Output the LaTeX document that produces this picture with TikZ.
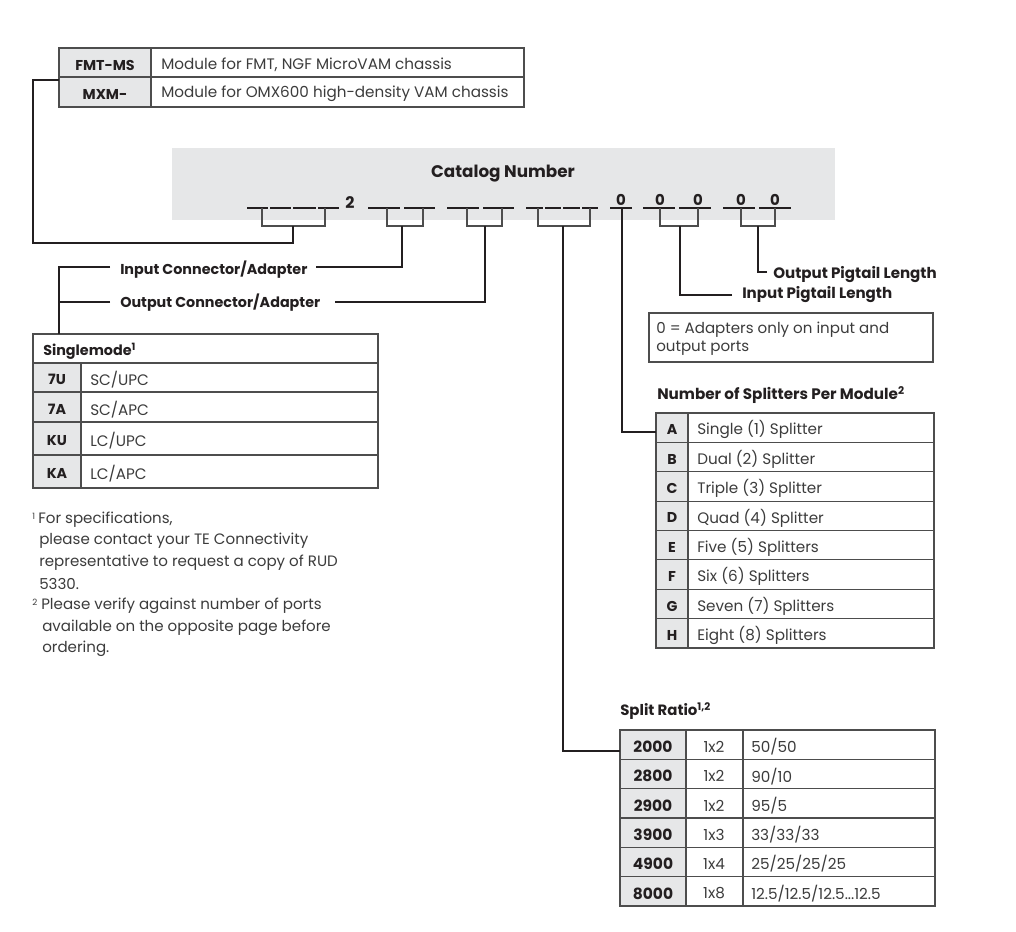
\documentclass[tikz,border=0pt]{standalone}
\usepackage{fontspec}
\setmainfont{Poppins}
\definecolor{keygray}{HTML}{E6E7E8}
\definecolor{band}{HTML}{E6E7E8}
\definecolor{txt}{HTML}{3C3C3C}
\definecolor{rulec}{HTML}{4D4D4D}
\definecolor{ink}{HTML}{231F20}
\newcommand\myratioeight{12.5/12.5/12.5...12.5}
\tikzset{
  txtbase/.style={inner sep=0pt, yshift=-1.6pt},
  lbl/.style={txtbase, font=\fontsize{10.75}{12}\selectfont\bfseries, text=ink},
  biglbl/.style={txtbase, font=\fontsize{11.3}{13}\selectfont\bfseries, text=ink},
  cell/.style={txtbase, font=\fontsize{11.4}{13}\selectfont, text=txt},
  keyc/.style={txtbase, font=\fontsize{10.7}{12}\selectfont\bfseries, text=ink},
  numk/.style={txtbase, font=\fontsize{11.6}{13}\selectfont\bfseries, text=ink},
  note/.style={txtbase, font=\fontsize{11.3}{13}\selectfont, text=txt, anchor=west},
  sup/.style={txtbase, font=\fontsize{6.5}{7}\selectfont, text=txt, anchor=west},
  zero/.style={txtbase, font=\fontsize{11.2}{13}\selectfont\bfseries, text=ink},
  conn/.style={draw=ink, line width=0.9pt},
  grid/.style={draw=rulec, line width=0.9pt},
  uline/.style={draw=ink, line width=1.2pt},
  brk/.style={draw=rulec, line width=0.9pt},
}
\begin{document}
\begin{tikzpicture}[x=0.75pt,y=-0.75pt]
\useasboundingbox (0,0) rectangle (1016,931);
\fill[white] (0,0) rectangle (1016,931);

% ---------- top table ----------
\fill[keygray] (59,48) rectangle (151,107);
\draw[grid] (59,48) rectangle (524,107);
\draw[grid] (59,77) -- (524,77);
\draw[grid] (151,48) -- (151,107);
\node[keyc] (fmt) at (105,63) {FMT-MS};
\node[cell,anchor=west] (fmtd) at (161,63) {Module for FMT, NGF MicroVAM chassis};
\node[keyc] (mxm) at (105,92) {MXM-};
\node[cell,anchor=west] (mxmd) at (161,92) {Module for OMX600 high-density VAM chassis};
\coordinate (mxmL) at (59,80);

% ---------- catalog band ----------
\fill[band] (172,148) rectangle (835,220);
\node[lbl,font=\fontsize{12.6}{14}\selectfont\bfseries] (cat) at (503,171) {Catalog Number};
\node[lbl,font=\fontsize{12}{14}\selectfont\bfseries] (two) at (350,200) {2};

% group 1
\draw[uline] (247,208) -- (268,208) (270,208) -- (291,208) (293,208) -- (316,208) (318,208) -- (339,208);
\draw[brk] (262,208) -- (262,226) -- (325,226) -- (325,208);
\coordinate (g1) at (293,226);
% group 2
\draw[uline] (368,208) -- (400,208) (404,208) -- (435,208);
\draw[brk] (387,208) -- (387,226) -- (423,226) -- (423,208);
\coordinate (g2) at (402,226);
% group 3
\draw[uline] (447,208) -- (479,208) (483,208) -- (514,208);
\draw[brk] (467,208) -- (467,226) -- (502,226) -- (502,208);
\coordinate (g3) at (485,226);
% group 4
\draw[uline] (526,208) -- (543,208) (545,208) -- (561,208) (563,208) -- (580,208) (582,208) -- (598,208);
\draw[brk] (538,208) -- (538,226) -- (590,226) -- (590,208);
\coordinate (g4) at (563,226);
% group 5
\draw[uline] (610,208) -- (632,208);
\node[zero] (z1) at (621,198) {0};
\coordinate (g5) at (622,208);
% group 6
\draw[uline] (643,208) -- (675,208) (679,208) -- (711,208);
\node[zero] (z2) at (660,198) {0};
\node[zero] (z3) at (698,198) {0};
\draw[brk] (660,208) -- (660,226) -- (698,226) -- (698,208);
\coordinate (g6) at (680,226);
% group 7
\draw[uline] (723,208) -- (755,208) (759,208) -- (791,208);
\node[zero] (z4) at (741,198) {0};
\node[zero] (z5) at (775,198) {0};
\draw[brk] (741,208) -- (741,226) -- (775,226) -- (775,208);
\coordinate (g7) at (758,226);

% ---------- connector labels ----------
\node[lbl,anchor=west] (inc) at (120,267) {Input Connector/Adapter};
\node[lbl,anchor=west] (outc) at (120,300) {Output Connector/Adapter};
\node[biglbl,anchor=west] (opl) at (773,272) {Output Pigtail Length};
\node[biglbl,anchor=west] (ipl) at (742,292) {Input Pigtail Length};

\coordinate (incR) at (316,267);
\coordinate (outcR) at (335,302);
\coordinate (incL) at (110,267);
\coordinate (outcL) at (110,302);
\coordinate (oplL) at (767,272);
\coordinate (iplL) at (732,295);

% connectors
\draw[conn] (mxmL) -- (33,80) -- (33,243) -- (g1 |- 0,243) -- (g1);
\draw[conn] (incR) -- (g2 |- incR) -- (g2);
\draw[conn] (outcR) -- (g3 |- outcR) -- (g3);
\draw[conn] (oplL) -- (g7 |- oplL) -- (g7);
\draw[conn] (iplL) -- (g6 |- iplL) -- (g6);

% ---------- singlemode table ----------
\fill[keygray] (33,363) rectangle (81,488);
\draw[grid] (33,334) rectangle (378,488);
\foreach \y in {363,392,422,455} \draw[grid] (33,\y) -- (378,\y);
\draw[grid] (81,363) -- (81,488);
\node[lbl,anchor=west] (sm) at (43,349) {Singlemode\textsuperscript{1}};
\foreach \k/\d/\y [count=\i] in {7U/SC\slash UPC/377.5, 7A/SC\slash APC/407, KU/LC\slash UPC/438.5, KA/LC\slash APC/471.5}{
  \node[keyc] (smk\i) at (57,\y) {\k};
  \node[cell,anchor=west] (smd\i) at (90,\y) {\d};
}
\coordinate (smT) at (59,334);
\draw[conn] (incL) -- (59,267) -- (smT);
\draw[conn] (outcL) -- (59,302);

% ---------- footnotes ----------
\node[sup] (f1s) at (32,514) {1};
\node[note] (f1a) at (38,518) {For specifications,};
\node[note] (f1b) at (39,539) {please contact your TE Connectivity};
\node[note] (f1c) at (39,561) {representative to request a copy of RUD};
\node[note] (f1d) at (39,582) {5330.};
\node[sup] (f2s) at (32,600) {2};
\node[note] (f2a) at (41,604) {Please verify against number of ports};
\node[note] (f2b) at (42,626) {available on the opposite page before};
\node[note] (f2c) at (42,647) {ordering.};

% ---------- note box ----------
\draw[grid] (649,313) rectangle (933,362);
\node[note] (nb1) at (656,328) {0 = Adapters only on input and};
\node[note] (nb2) at (656,346) {output ports};

% ---------- splitters ----------
\node[lbl,font=\fontsize{11.4}{13}\selectfont\bfseries,anchor=west] (nsp) at (657,393) {Number of Splitters Per Module\textsuperscript{2}};
\fill[keygray] (656,413) rectangle (688,648);
\draw[grid] (656,413) rectangle (934,648);
\foreach \i in {1,...,7} \draw[grid] (656,{413+29.375*\i}) -- (934,{413+29.375*\i});
\draw[grid] (688,413) -- (688,648);
\foreach \k/\d [count=\i from 0] in {A/Single (1) Splitter, B/Dual (2) Splitter, C/Triple (3) Splitter, D/Quad (4) Splitter, E/Five (5) Splitters, F/Six (6) Splitters, G/Seven (7) Splitters, H/Eight (8) Splitters}{
  \node[keyc] (spk\k) at (672,{413+29.375*(\i+0.5)}) {\k};
  \node[cell,anchor=west] (spd\k) at (697,{413+29.375*(\i+0.5)}) {\d};
}
\coordinate (spA) at (656,432);
\draw[conn] (g5) -- (g5 |- spA) -- (spA);

% ---------- split ratio ----------
\node[lbl,font=\fontsize{11.2}{13}\selectfont\bfseries,anchor=west] (srl) at (620,709) {Split Ratio\textsuperscript{1,2}};
\fill[keygray] (620,730) rectangle (686,906);
\draw[grid] (620,730) rectangle (935,906);
\foreach \i in {1,...,5} \draw[grid] (620,{730+29.33*\i}) -- (935,{730+29.33*\i});
\draw[grid] (686,730) -- (686,906);
\draw[grid] (743,730) -- (743,906);
\foreach \k/\m/\r [count=\i from 0] in {2000/1x2/50\slash 50, 2800/1x2/90\slash 10, 2900/1x2/95\slash 5, 3900/1x3/33\slash 33\slash 33, 4900/1x4/25\slash 25\slash 25\slash 25, 8000/1x8/\myratioeight}{
  \node[numk] (srk\i) at (653,{730+29.33*(\i+0.5)}) {\k};
  \node[cell] (srm\i) at (714,{730+29.33*(\i+0.5)}) {\m};
  \node[cell,anchor=west] (srr\i) at (751,{730+29.33*(\i+0.5)}) {\r};
}
\coordinate (sr0) at (620,751);
\draw[conn] (g4) -- (g4 |- sr0) -- (sr0);
\end{tikzpicture}
\end{document}
